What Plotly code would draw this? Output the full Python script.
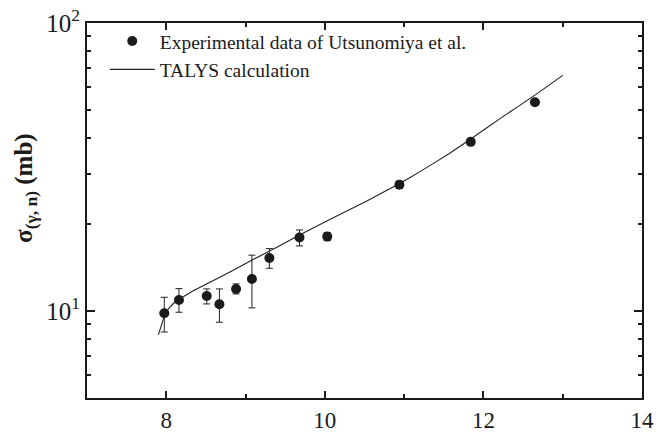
import plotly.graph_objects as go
import math

# Experimental data (Utsunomiya et al.)
exp_energy = [7.975, 8.16, 8.51, 8.67, 8.88, 9.08, 9.30, 9.68, 10.03, 10.94, 11.84, 12.65]
exp_sigma = [9.84, 10.94, 11.30, 10.57, 11.95, 12.94, 15.31, 18.03, 18.15, 27.48, 38.7, 53.1]
exp_err_plus = [1.34, 1.04, 0.65, 1.38, 0.49, 2.71, 1.18, 1.11, 0.59, 0.8, 1.1, 1.0]
exp_err_minus = [1.37, 1.02, 0.70, 1.41, 0.47, 2.67, 1.22, 1.18, 0.57, 0.8, 1.1, 1.0]

# TALYS calculation
talys_energy = [7.90, 7.95, 7.975, 8.00, 8.05, 8.10, 8.16, 8.30, 8.50, 8.85, 9.06, 9.40,
                9.68, 10.00, 10.50, 10.95, 11.20, 11.58, 11.84, 12.20, 12.65, 13.00]
talys_sigma = [8.28, 9.15, 9.6, 9.95, 10.35, 10.7, 11.0, 11.6, 12.4, 13.9, 14.95, 16.7,
               18.4, 20.4, 23.9, 27.8, 30.5, 35.4, 39.6, 46.4, 56.2, 65.8]

x_tickvals = [8, 10, 12, 14]
x_ticktext = ["8", "10", "12", "14"]
y_tickvals = [10, 100]
y_ticktext = ["10<sup>1</sup>", "10<sup>2</sup>"]

SERIF = "Liberation Serif"

fig = go.Figure()

fig.add_trace(go.Scatter(
    x=talys_energy, y=talys_sigma, mode="lines", name="TALYS calculation",
    line=dict(color="#222222", width=1.1, shape="spline", smoothing=0.3),
))

fig.add_trace(go.Scatter(
    x=exp_energy, y=exp_sigma, mode="markers", name="Experimental data of Utsunomiya et al.",
    marker=dict(color="#1a1a1a", size=10, symbol="circle"),
    error_y=dict(type="data", symmetric=False, array=exp_err_plus, arrayminus=exp_err_minus,
                 color="#222222", thickness=1, width=3.5),
))

axis_font = dict(family=SERIF, color="#1a1a1a")

fig.update_layout(
    width=670, height=434,
    margin=dict(l=87, r=28, t=23, b=36),
    paper_bgcolor="white", plot_bgcolor="white",
    font=dict(family=SERIF, color="#1a1a1a"),
    showlegend=True,
    legend=dict(
        x=0.032, y=1.003, xanchor="left", yanchor="top",
        traceorder="reversed",
        font=dict(family=SERIF, size=19.5, color="#1a1a1a"),
        bgcolor="rgba(0,0,0,0)", itemwidth=45, tracegroupgap=0,
    ),
    xaxis=dict(
        range=[7, 14], tickvals=x_tickvals, ticktext=x_ticktext,
        ticks="inside", ticklen=7, tickwidth=2, tickcolor="#1a1a1a",
        showline=True, linewidth=2, linecolor="#1a1a1a", mirror="ticks",
        showgrid=False, zeroline=False, automargin=False,
        tickfont=dict(size=23, **axis_font), ticklabelstandoff=0,
        minor=dict(tickvals=[7, 9, 11, 13], ticks="inside", ticklen=4, tickwidth=2,
                   tickcolor="#1a1a1a", showgrid=False),
    ),
    yaxis=dict(
        type="log", range=[math.log10(5), 2],
        tickvals=y_tickvals, ticktext=y_ticktext,
        ticks="inside", ticklen=8, tickwidth=2, tickcolor="#1a1a1a",
        showline=True, linewidth=2, linecolor="#1a1a1a", mirror="ticks",
        showgrid=False, zeroline=False, automargin=False,
        tickfont=dict(size=25, **axis_font), ticklabelstandoff=0,
        minor=dict(tickvals=[6, 7, 8, 9, 20, 30, 40, 50, 60, 70, 80, 90], ticks="inside",
                   ticklen=4, tickwidth=2, tickcolor="#1a1a1a", showgrid=False),
    ),
    annotations=[dict(
        text="<b>σ<sub>(γ, n)</sub> (mb)</b>", xref="paper", yref="paper",
        x=-0.11, y=0.56, xanchor="center", yanchor="middle", textangle=-90,
        showarrow=False, font=dict(family=SERIF, size=25, color="#1a1a1a"),
    )],
)

fig.write_html("out.html")
